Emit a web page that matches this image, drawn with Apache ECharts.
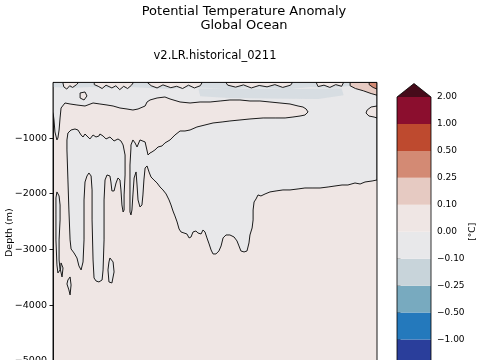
<!DOCTYPE html>
<html><head><meta charset="utf-8">
<script src="https://cdn.jsdelivr.net/npm/echarts@6/dist/echarts.min.js"></script>
<style>html,body{margin:0;padding:0;background:#fff;overflow:hidden}#c{width:480px;height:360px}</style>
</head><body><div id="c"></div>
<script>
// ---- axes / scale data ----
const yearRange = [1850, 2015];
const depthRange = [-5400, 0];
const depthTicks = [-5000, -4000, -3000, -2000, -1000];
const levelLabels = ['−2.00','−1.00','−0.50','−0.25','−0.10','0.00','0.10','0.25','0.50','1.00','2.00'];
const levelColors = ['#2a3e9b','#2479bc','#78aabf','#c8d4da','#e8e8ea','#efe6e4','#e6cac2','#d38a74','#be4a2f','#8b0e2e'];
const extendColor = '#460b1a';
const backgroundLevel = 5;

// ---- contour regions, [year, depth(m)] ----
const grayMain = [[1850,0],[2015,0],[2015,-1753],[2012.5,-1771],[2008.9,-1789],[2006.4,-1825],[2003.8,-1807],[2000.2,-1843],[1997.2,-1843],[1993.6,-1861],[1990.1,-1879],[1986,-1897],[1982.4,-1897],[1978.3,-1897],[1974.8,-1914],[1970.7,-1932],[1967.1,-1932],[1963.6,-1950],[1960.5,-1968],[1958,-2004],[1955.9,-2040],[1954.4,-2022],[1953.4,-2094],[1952.4,-2148],[1951.9,-2292],[1951.9,-2471],[1951.4,-2615],[1950.3,-2741],[1949.8,-2884],[1948.8,-3028],[1947.3,-3046],[1945.7,-3028],[1944.7,-2938],[1943.7,-2848],[1942.2,-2777],[1940.1,-2741],[1938.1,-2741],[1936.6,-2794],[1935.6,-2938],[1934.5,-3028],[1933,-3082],[1931.5,-3082],[1930.5,-3010],[1929.5,-2902],[1928.4,-2794],[1927.4,-2687],[1926.4,-2651],[1925.4,-2723],[1923.8,-2705],[1922.8,-2669],[1921.3,-2687],[1920.3,-2777],[1919.3,-2794],[1918.2,-2723],[1916.7,-2705],[1915.2,-2687],[1914.2,-2633],[1913.2,-2507],[1912.1,-2399],[1911.1,-2310],[1910.1,-2202],[1909.1,-2112],[1907.6,-2004],[1906,-1932],[1904.5,-1879],[1903,-1807],[1901.4,-1753],[1899.9,-1699],[1898.9,-1609],[1897.9,-1501],[1896.9,-1537],[1896.3,-1753],[1895.8,-2022],[1895.3,-2202],[1894.3,-2238],[1893.3,-2112],[1892.8,-1843],[1892.3,-1609],[1891.3,-1717],[1890.7,-2022],[1890.2,-2292],[1889.7,-2381],[1889.2,-2328],[1889.2,-1932],[1889.2,-1484],[1889.7,-1178],[1889.7,-1124],[1890.7,-1034],[1891.8,-1088],[1892.8,-1160],[1894.3,-1034],[1896.9,-1070],[1898.4,-1304],[1899.4,-1268],[1900.4,-1250],[1901.9,-1214],[1903.5,-1160],[1905.5,-1142],[1907,-1088],[1909.6,-1034],[1912.1,-945],[1914.7,-873],[1917.2,-873],[1919.8,-855],[1923.3,-801],[1927.4,-765],[1931.5,-729],[1936.1,-711],[1940.1,-693],[1945.2,-675],[1950.3,-657],[1957,-639],[1963.1,-639],[1968.2,-639],[1972.2,-622],[1975.8,-604],[1978.3,-586],[1979.9,-532],[1978.9,-478],[1977.3,-442],[1974.8,-424],[1970.7,-388],[1965.6,-370],[1960.5,-352],[1955.4,-334],[1950.3,-334],[1945.2,-316],[1940.1,-316],[1935.1,-334],[1930,-352],[1924.9,-352],[1919.8,-370],[1914.7,-352],[1909.6,-298],[1907,-262],[1903,-280],[1899.4,-316],[1897.9,-352],[1896.9,-424],[1893.3,-478],[1890.7,-496],[1887.7,-478],[1884.1,-460],[1880.6,-424],[1877.5,-406],[1873.9,-388],[1870.4,-370],[1866.3,-424],[1862.2,-406],[1858.7,-388],[1856.1,-370],[1854.1,-460],[1853.6,-639],[1853.1,-855],[1852.5,-999],[1852,-1034],[1851,-891],[1850.5,-675],[1850,-532]];
const grayLeftBlock = [[1857.1,-1034],[1857.6,-909],[1859.2,-855],[1861.2,-837],[1862.7,-855],[1864.3,-945],[1865.3,-981],[1866.3,-927],[1868.8,-1016],[1870.4,-945],[1871.9,-981],[1873.4,-963],[1873.9,-927],[1875.5,-963],[1877,-1016],[1879,-981],[1881.1,-1052],[1883.1,-1016],[1884.6,-1052],[1885.7,-1124],[1886.7,-1304],[1886.7,-1663],[1886.2,-2022],[1886.2,-2292],[1885.7,-2328],[1885.1,-2202],[1884.6,-1932],[1884.1,-1753],[1883.1,-1717],[1882.1,-1807],[1881.1,-1950],[1880,-1950],[1879.5,-1789],[1879,-1681],[1877.5,-1663],[1876.5,-1753],[1876,-2112],[1876,-2830],[1875.5,-3369],[1875,-3549],[1873.4,-3585],[1871.9,-3567],[1870.9,-3513],[1870.4,-3190],[1869.9,-2471],[1869.9,-1932],[1869.4,-1681],[1868.3,-1627],[1867.3,-1681],[1866.3,-1789],[1865.8,-2112],[1865.8,-2830],[1865.3,-3226],[1864.3,-3369],[1863.2,-3297],[1862.2,-3154],[1860.7,-3064],[1859.2,-2992],[1858.7,-2830],[1858.1,-2292],[1857.6,-1753],[1857.1,-1214]];
const grayLeftSliver = [[1852,-1968],[1853.1,-2040],[1853.6,-2202],[1853.6,-2471],[1853.1,-2830],[1853.1,-3190],[1853.6,-3369],[1852.5,-3423],[1852,-3279],[1851.5,-2830],[1851.5,-2381],[1851.5,-2076]];
const grayLoopA = [[1854.1,-3243],[1855.1,-3333],[1854.6,-3495],[1853.8,-3369]];
const grayLoopB = [[1857.6,-3549],[1858.7,-3495],[1859.2,-3639],[1858.7,-3818],[1858.1,-3728],[1857.1,-3621]];
const grayLoopC = [[1879,-3154],[1880.6,-3226],[1881.1,-3405],[1880,-3603],[1878.5,-3585],[1878,-3369],[1878.5,-3226]];
const pinkRightBulge = [[2015,-424],[2012,-442],[2010,-496],[2009.4,-550],[2010.9,-604],[2013.5,-622],[2015,-639]];
const pinkSmallLoop = [[1863.8,-190],[1866.3,-172],[1867.3,-244],[1865.8,-316],[1863.8,-280]];
const blueSurface = [[1850,0],[2001.3,0],[2001.3,-65],[1991.1,-101],[1980.9,-83],[1970.7,-119],[1960.5,-101],[1950.3,-83],[1940.1,-119],[1930,-101],[1919.8,-83],[1909.6,-119],[1899.4,-101],[1889.2,-83],[1879,-101],[1868.8,-83],[1858.7,-101],[1850,-83]];
const blueSubsurface = [[1924,-110],[1975,-120],[1997,-110],[1998,-230],[1985,-300],[1960,-290],[1940,-280],[1925,-250]];
const pinkSurface1 = [[1855,0],[1863,0],[1862,-40],[1860,-90],[1858.5,-60],[1857,-120],[1855.5,-80]];
const pinkSurface2 = [[1871,0],[1891,0],[1890,-50],[1888,-110],[1886,-70],[1884,-130],[1882,-60],[1880,-100],[1877,-50],[1875,-110],[1873,-70],[1871,-40]];
const pinkSurface3 = [[1898,0],[1926,0],[1925,-60],[1922,-100],[1919,-50],[1916,-110],[1913,-70],[1910,-95],[1906,-45],[1903,-100],[1900,-60]];
const pinkSurface4 = [[1938,0],[1972,0],[1971,-50],[1967,-90],[1963,-40],[1959,-80],[1955,-55],[1951,-100],[1947,-45],[1943,-85],[1939,-50]];
const pinkSurface5 = [[1984,0],[1998,0],[1997,-70],[1994,-40],[1991,-90],[1988,-50],[1985,-75]];
const redTopRight = [[2001.3,0],[2015,0],[2015,-230],[2012,-200],[2008,-150],[2004,-110],[2001.3,-60]];
const redTopRight2 = [[2011,0],[2015,0],[2015,-120],[2013,-90],[2011,-40]];

// level index of each region (index into levelColors), drawing order
const regionList = [
  {pts: grayMain, level: 4},
  {pts: grayLeftBlock, level: 4},
  {pts: grayLeftSliver, level: 4},
  {pts: grayLoopA, level: 4},
  {pts: grayLoopB, level: 4},
  {pts: grayLoopC, level: 4},
  {pts: pinkRightBulge, level: 5},
  {pts: pinkSmallLoop, level: 5},
  {pts: blueSubsurface, level: 3, soft: true},
  {pts: blueSurface, level: 3, soft: true},
  {pts: pinkSurface1, level: 5},
  {pts: pinkSurface2, level: 5},
  {pts: pinkSurface3, level: 5},
  {pts: pinkSurface4, level: 5},
  {pts: pinkSurface5, level: 5},
  {pts: redTopRight, level: 6},
  {pts: redTopRight2, level: 7}
];

const chart = echarts.init(document.getElementById('c'), null, {renderer: 'canvas'});
const FONT = 'DejaVu Sans';

const regionSeries = regionList.map(r => ({
  type: 'custom', xAxisIndex: 0, yAxisIndex: 0, clip: true, silent: true,
  data: r.pts,
  renderItem: (params, api) => {
    if (params.dataIndex !== 0) return null;
    return {type: 'polygon', shape: {points: r.pts.map(p => api.coord(p))},
      style: {fill: levelColors[r.level], opacity: r.soft ? 0.55 : 1,
              stroke: r.soft ? null : '#1a1a1a', lineWidth: r.soft ? 0 : 1}};
  }
}));

const frameSeries = {
  type: 'custom', xAxisIndex: 0, yAxisIndex: 0, silent: true, z: 10,
  data: [[yearRange[0], depthRange[0]]],
  renderItem: (params, api) => {
    const a = api.coord([yearRange[0], depthRange[1]]);
    const b = api.coord([yearRange[1], depthRange[0]]);
    return {type: 'rect', shape: {x: a[0], y: a[1], width: b[0]-a[0], height: b[1]-a[1]},
      style: {fill: null, stroke: '#000', lineWidth: 0.9}};
  }
};

const cbSeries = {
  type: 'custom', xAxisIndex: 1, yAxisIndex: 1, silent: true,
  data: levelColors.map((c, i) => [0, i]),
  renderItem: (params, api) => {
    const i = params.dataIndex;
    const a = api.coord([0, i + 1]);
    const b = api.coord([1, i]);
    return {type: 'rect', shape: {x: a[0], y: a[1], width: b[0]-a[0], height: b[1]-a[1]},
      style: {fill: levelColors[i]}};
  }
};
const nLev = levelColors.length;
const cbExtend = {
  type: 'custom', xAxisIndex: 1, yAxisIndex: 1, silent: true, clip: false,
  data: [[0.5, nLev]],
  renderItem: (params, api) => {
    const tri = [api.coord([0, nLev]), api.coord([1, nLev]), api.coord([0.5, nLev + 0.5])];
    const outline = [api.coord([0, 0]), api.coord([0, nLev]), api.coord([0.5, nLev + 0.5]), api.coord([1, nLev]), api.coord([1, 0])];
    return {type: 'group', children: [
      {type: 'polygon', shape: {points: tri}, style: {fill: extendColor}},
      {type: 'polygon', shape: {points: outline}, style: {fill: null, stroke: '#000', lineWidth: 0.8}}
    ]};
  }
};

chart.setOption({
  animation: false,
  backgroundColor: '#fff',
  textStyle: {fontFamily: FONT},
  grid: [
    {left: 53, top: 82.4, width: 324, height: 300.6, show: true, backgroundColor: levelColors[backgroundLevel], borderWidth: 0, outerBoundsMode: 'none', containLabel: false},
    {left: 397, top: 97, width: 34, height: 269.5, show: false, outerBoundsMode: 'none', containLabel: false}
  ],
  xAxis: [
    {gridIndex: 0, type: 'value', min: yearRange[0], max: yearRange[1], show: false},
    {gridIndex: 1, type: 'value', min: 0, max: 1, show: false}
  ],
  yAxis: [
    {gridIndex: 0, type: 'value', min: depthRange[0], max: depthRange[1],
     axisLine: {show: true, lineStyle: {color: '#000', width: 0.9}},
     axisTick: {show: true, length: 3.5, customValues: depthTicks, lineStyle: {color: '#000', width: 0.9}},
     axisLabel: {customValues: depthTicks, fontSize: 9.5, color: '#000', margin: 6, fontFamily: FONT,
                 formatter: v => (v < 0 ? '−' : '') + Math.abs(v)},
     splitLine: {show: false},
     name: 'Depth (m)', nameLocation: 'middle', nameGap: 38, nameMoveOverlap: false,
     nameTextStyle: {fontSize: 9.5, color: '#000', fontFamily: FONT}},
    {gridIndex: 1, type: 'value', min: 0, max: nLev, interval: 1, position: 'right',
     axisLine: {show: false},
     axisTick: {show: true, length: 3.5, lineStyle: {color: '#000', width: 0.9}},
     axisLabel: {fontSize: 9, color: '#000', margin: 6, fontFamily: FONT, formatter: v => levelLabels[v]},
     splitLine: {show: false},
     name: '[°C]', nameLocation: 'middle', nameGap: 34, nameRotate: 90,
     nameTextStyle: {fontSize: 9, color: '#000', fontFamily: FONT}}
  ],
  graphic: [
    {type: 'text', x: 244, y: 11.5, style: {text: 'Potential Temperature Anomaly', fontSize: 13, fontFamily: FONT, fill: '#000', align: 'center', verticalAlign: 'middle'}},
    {type: 'text', x: 244, y: 26, style: {text: 'Global Ocean', fontSize: 13, fontFamily: FONT, fill: '#000', align: 'center', verticalAlign: 'middle'}},
    {type: 'text', x: 215, y: 56.5, style: {text: 'v2.LR.historical_0211', fontSize: 11.5, fontFamily: FONT, fill: '#000', align: 'center', verticalAlign: 'middle'}}
  ],
  series: [...regionSeries, frameSeries, cbSeries, cbExtend]
});
</script></body></html>
